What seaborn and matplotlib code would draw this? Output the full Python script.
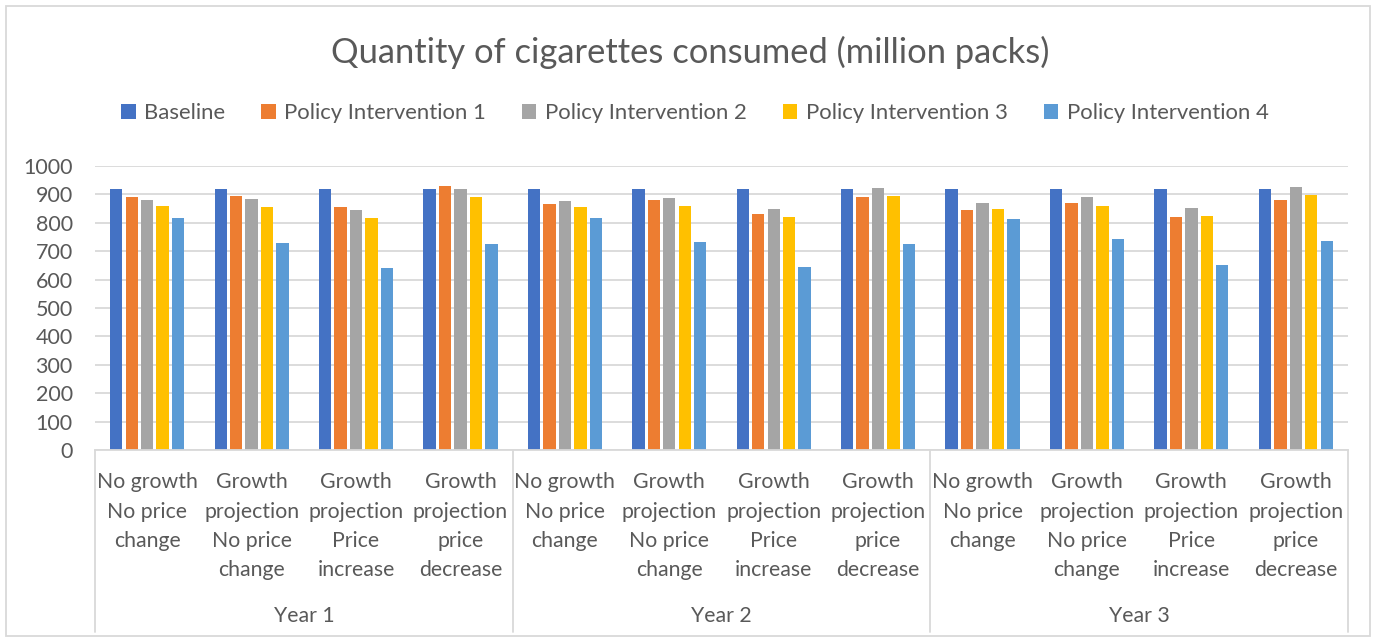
import matplotlib
matplotlib.use("Agg")
import matplotlib.pyplot as plt
import seaborn as sns
import pandas as pd

# ---- data ----
years = ["Year 1", "Year 2", "Year 3"]
scenarios = ["No growth\nNo price\nchange",
             "Growth\nprojection\nNo price\nchange",
             "Growth\nprojection\nPrice\nincrease",
             "Growth\nprojection\nprice\ndecrease"]
series = ["Baseline", "Policy Intervention 1", "Policy Intervention 2",
          "Policy Intervention 3", "Policy Intervention 4"]

baseline = [919, 919, 919, 919, 919, 919, 919, 919, 919, 919, 919, 919]
policy1 = [890, 893, 857, 931, 867, 880, 830, 892, 846, 869, 821, 882]
policy2 = [881, 883, 845, 919, 875, 886, 850, 921, 868, 890, 853, 925]
policy3 = [860, 854, 818, 891, 854, 858, 820, 894, 847, 860, 824, 897]
policy4 = [818, 729, 642, 724, 816, 734, 646, 727, 812, 742, 653, 736]

colors = ["#4472C4", "#ED7D31", "#A5A5A5", "#FFC000", "#5B9BD5"]

# ---- build long table ----
cat_keys = [f"{y}|{i}" for y in years for i in range(len(scenarios))]
cat_labels = [s for _ in years for s in scenarios]
rows = []
for name, vals in zip(series, [baseline, policy1, policy2, policy3, policy4]):
    for k, v in zip(cat_keys, vals):
        rows.append({"cat": k, "series": name, "value": v})
df = pd.DataFrame(rows)

sns.set_theme(style="white")
plt.rcParams["font.family"] = ["Lato", "DejaVu Sans"]
TXT = "#595959"

fig = plt.figure(figsize=(13.8, 6.42), dpi=100)
ax = fig.add_axes([95 / 1380, 1 - 450 / 642, (1348 - 95) / 1380, (450 - 166) / 642])

sns.barplot(data=df, x="cat", y="value", hue="series", order=cat_keys,
            hue_order=series, palette=colors, saturation=1, width=0.74,
            gap=0.2, ax=ax, edgecolor="none")

handles, labels = ax.get_legend_handles_labels()
if ax.get_legend() is not None:
    ax.get_legend().remove()

ax.set_ylim(0, 1000)
ax.set_xlim(-0.5, len(cat_keys) - 0.5)
ax.set_yticks(range(0, 1001, 100))
ax.yaxis.grid(True, color="#D9D9D9", linewidth=1.3)
ax.set_axisbelow(True)
for s in ["top", "right", "left"]:
    ax.spines[s].set_visible(False)
ax.spines["bottom"].set_color("#D9D9D9")
ax.spines["bottom"].set_linewidth(1.3)
ax.set_xlabel("")
ax.set_ylabel("")
ax.set_xticks(range(len(cat_keys)))
ax.set_xticklabels(cat_labels, fontsize=15.3, color=TXT, linespacing=1.58,
                   va="top")
ax.tick_params(axis="x", length=0, pad=16)
ax.tick_params(axis="y", length=0, pad=16, labelsize=15.5, labelcolor=TXT)

# group separators and year labels
n = len(scenarios)
for g in range(len(years) + 1):
    x = g * n - 0.5
    ax.plot([x, x], [0, -0.64], transform=ax.get_xaxis_transform(),
            color="#D9D9D9", linewidth=1.3, clip_on=False)
for g, y in enumerate(years):
    ax.text(g * n + (n - 1) / 2, -0.585, y, transform=ax.get_xaxis_transform(),
            ha="center", va="center", fontsize=15.3, color=TXT)

fig.text(0.5, 1 - 52 / 642, "Quantity of cigarettes consumed (million packs)",
         ha="center", va="center", fontsize=24.8, color=TXT)

fig.legend(handles, labels, loc="center", bbox_to_anchor=(695 / 1380, 1 - 113 / 642),
           ncol=5, frameon=False, fontsize=15.9, handlelength=0.65,
           handleheight=0.65, handletextpad=0.4, columnspacing=1.62,
           labelcolor=TXT)

# outer chart frame
frame = plt.Rectangle((6 / 1380, 6 / 642), (1370 - 6) / 1380, (636 - 6) / 642,
                      transform=fig.transFigure, fill=False,
                      edgecolor="#D9D9D9", linewidth=1.3)
fig.patches.append(frame)

fig.savefig("out.png", dpi=100)
